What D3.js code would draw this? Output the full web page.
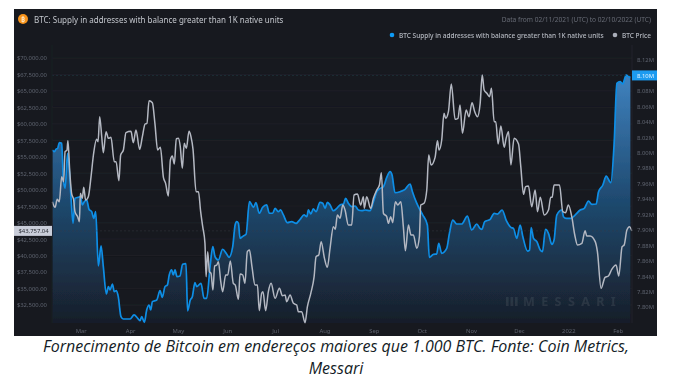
<!DOCTYPE html>
<html><head><meta charset="utf-8">
<style>
html,body{margin:0;padding:0;background:#fff}
svg{display:block}
text{font-family:"Noto Sans","Open Sans",sans-serif}
.cap{font-family:"Open Sans",sans-serif;font-style:italic;font-size:16px;fill:#141c26;text-anchor:middle}
</style>
<script src="https://cdn.jsdelivr.net/npm/d3@7"></script>
</head><body>
<svg id="c" width="673" height="381"></svg>
<script>
const startDate = "2021-02-11";
const endDate = "2022-02-10";
const titleText = "BTC: Supply in addresses with balance greater than 1K native units";
const rangeText = "Data from 02/11/2021 (UTC) to 02/10/2022 (UTC)";
const legendLabels = ["BTC Supply in addresses with balance greater than 1K native units", "BTC Price"];
const captionLines = ["Fornecimento de Bitcoin em endereços maiores que 1.000 BTC. Fonte: Coin Metrics,", "Messari"];
const monthTicks = ["2021-03-01","2021-04-01","2021-05-01","2021-06-01","2021-07-01","2021-08-01","2021-09-01","2021-10-01","2021-11-01","2021-12-01","2022-01-01","2022-02-01"];
const priceTicks = [32500,35000,37500,40000,42500,45000,47500,50000,52500,55000,57500,60000,62500,65000,67500,70000];
const supplyTicks = [7.80,7.82,7.84,7.86,7.88,7.90,7.92,7.94,7.96,7.98,8.00,8.02,8.04,8.06,8.08,8.10,8.12];
const lastPrice = 43757.04;
const lastSupply = 8.10;

const priceDays = [0.2,1.9,3.3,4.6,6.1,7.3,8.2,9.4,10,11.1,12.3,13.6,14.4,16.1,17.2,17.8,19,19.9,21.1,22.8,24.5,26,28,28.9,29.9,31.2,32.2,33.9,35.4,37,39.1,40.2,42,43.1,44.8,46.4,49.6,51,52.7,55,56.7,58.4,59.6,60.9,63,64.6,66.3,68,69.9,71.3,73,74.3,75.5,76.8,78,79.3,80.5,81.8,83,84.3,86,87.2,88.5,
90.4,91.9,93.3,94.6,96,96.7,97.7,98.8,99.8,101,102.1,103.4,104.4,105.9,107.1,109,110.3,111.9,113.8,115,117,118,119.7,121.1,122.6,123.9,125.5,127.4,128.9,130.1,131.6,132.4,134.1,135.8,137.5,140,142.7,144.6,146.3,147.3,149.4,151.5,153.6,154.6,156.7,158.8,160.3,162.4,164.5,165.7,167.4,168.9,171,172.8,174.5,176.6,177.8,179.1,180.8,
182.5,183.9,186,188.1,189.6,191.7,193.7,195.4,196,197.5,200,201.7,203.8,205.5,206.7,208,210.1,211.1,212.6,213.8,215.5,217,218.9,220.5,221.8,223.7,225.3,226.8,228.9,230.6,231.4,233.5,235.2,236.4,237.9,240.4,241.9,242.9,244.6,246,247.1,248.8,250.6,253,254.8,256.1,257.6,259.9,261.7,263.6,265.3,267,
268.7,270,271.2,272.9,274.6,275.8,277.5,278.5,280,281.7,283.8,285,286.5,288,290,292.8,294.2,295.9,297.2,299,301.1,303.2,304.7,306.4,308.9,311.6,313,313.9,315.1,318.5,320.6,322.3,324.1,326.2,328.1,329.8,332.5,334.6,335.6,337.7,340.9,342.3,344.6,347.1,349.2,351.3,354,355.7,357.8,359.1,360.8,362.4,363.9];
const priceValues = [48191,47331,48545,48191,51986,51227,55781,56034,57451,52998,49456,48444,46673,45914,45155,49456,48697,50367,48444,48950,51986,55275,57653,57299,61094,58058,55629,58817,57805,57957,54263,54263,51379,55275,56034,58665,58868,57147,59070,56135,58058,59981,60082,63523,63219,60082,56034,56439,51885,50974,49051,54516,55123,53909,57754,57805,56540,53251,57046,56287,58868,58058,56135,
49709,49709,46673,44396,41866,36806,40601,37565,37312,34782,38425,38577,39083,36047,34529,37059,37059,39184,35794,35541,33365,37211,37059,35794,40601,40854,38324,35541,35541,31645,34276,34529,31645,34529,35794,33517,35035,33922,34023,33011,34023,32758,32505,31493,31493,29823,32252,34276,36806,39842,40095,42119,39589,38223,41107,44396,43991,46167,45661,
47685,46926,44649,44649,49203,49355,47685,48950,47179,48950,47179,48697,49962,50721,52593,46420,45914,44902,45914,45003,48191,47685,48191,44396,40753,44649,43131,43131,41107,42878,47685,47938,49962,55275,53757,54921,57451,56034,57552,61600,60841,61853,66053,60689,60841,62865,58564,62106,61094,63219,61853,61094,
63118,67419,65142,64636,64130,65395,60335,60335,56945,59677,56439,57805,58817,53757,57805,56945,53504,49304,50468,50569,47432,49962,46673,48849,46167,46926,48849,48849,50721,50721,46673,46521,47685,45914,43131,41613,41866,43789,42979,42979,42119,40601,35035,36705,36907,37919,38577,36907,41360,41613,43890,44396,43757];

const supplyDays = [0.2,1.5,2.5,3.6,4.6,6.1,7.1,8.2,9.8,10.7,11.9,13.2,14.4,16.5,18,19,20.3,21.8,23.2,24.9,26.2,27.4,29.1,30.8,32.2,34.1,35.4,36.4,37.9,39.1,40.4,41.6,43.3,44.8,49,51.5,53.8,55.2,56.3,58,59.4,60.9,61.9,63,65.7,67.8,69.2,70.9,72.4,73.6,75.1,76.1,77.2,78.4,80.3,82,84.1,85.1,86.8,88.1,89.7,
90.8,93.5,95.4,97.1,99.2,100.9,102.3,104.4,107.1,109.6,111.1,113.4,114.9,115.9,117,118,120.1,121.8,123.9,126.4,128,130.1,132.2,134.7,136.4,138.5,140,142,143.5,145.2,147.7,150.4,153.2,155.7,158.2,159.9,160.9,162.4,164,165.7,168.2,169.9,171.4,172.8,174.5,176.6,178.7,180.8,
182.9,184.3,186,188.1,190.2,192.3,194.4,196.5,199.6,201.7,203.8,205.9,208,210.1,212.2,213.4,215.3,218.4,221.6,224.7,226.2,228.5,229.9,232.7,235.6,236.8,239.4,241.4,242.7,244.6,247.7,249.4,251.5,254,257.1,260.7,263.4,266.6,268.6,
269.7,271.6,275,277.5,279.6,282.5,285,288,289.6,291.7,293.8,295.5,298.4,299.7,300.7,302.2,304.3,306.4,307.8,309.7,311.6,313.7,315.1,316.8,320,321,322.7,325.6,328.3,331.5,334,336.7,338.8,341.5,343,345.7,347.8,350.7,352.8,354.5,356.6,358.2,360.3,362,363];
const supplyValues = [8.0035,8.0013,8.0044,8.0057,8.0130,8.0121,7.9668,7.9538,7.9992,7.9819,7.9431,7.9085,7.9409,7.9422,7.9431,7.9323,7.9366,7.9387,7.9267,7.9236,7.9150,7.9236,7.8533,7.8792,7.8524,7.8170,7.8265,7.8222,7.8299,7.8200,7.8213,7.8135,7.7876,7.7846,7.7846,7.7898,7.7855,7.7825,7.7876,7.7803,7.7963,7.8027,7.7963,7.8071,7.8092,7.8213,7.8127,7.8265,7.8287,7.8416,7.8481,7.8416,7.8481,7.8395,7.8403,7.8554,7.8563,7.7950,7.8092,7.8135,7.8317,
7.8265,7.8308,7.8114,7.8114,7.8524,7.8783,7.8654,7.8610,7.8749,7.8688,7.8645,7.8783,7.9064,7.9107,7.9085,7.8891,7.8921,7.8943,7.9366,7.9292,7.9353,7.9215,7.9292,7.9323,7.9215,7.9215,7.9279,7.9236,7.9258,7.9193,7.9094,7.9107,7.9085,7.9137,7.9193,7.9172,7.9258,7.9206,7.9271,7.9236,7.9357,7.9344,7.9279,7.9357,7.9323,7.9249,7.9279,7.9323,
7.9335,7.9408,7.9343,7.9300,7.9309,7.9257,7.9248,7.9257,7.9248,7.9365,7.9494,7.9537,7.9559,7.9680,7.9753,7.9710,7.9481,7.9494,7.9525,7.9594,7.9494,7.9365,7.9300,7.9192,7.9063,7.8644,7.8683,7.8687,7.8825,7.8696,7.8760,7.8955,7.9127,7.9076,7.9076,7.9179,7.8998,7.9076,7.9019,
7.9006,7.9106,7.9136,7.9214,7.9205,7.9257,7.9127,7.9032,7.9019,7.8890,7.9063,7.8911,7.8726,7.8739,7.9028,7.8890,7.8847,7.8739,7.8717,7.9006,7.8955,7.8812,7.8868,7.9192,7.9257,7.9170,7.9149,7.9149,7.9192,7.9257,7.9278,7.9373,7.9330,7.9335,7.9494,7.9581,7.9697,7.9611,8.0120,8.0897,8.0919,8.0889,8.1005,8.0984,8.0975];

const parse = d3.utcParse("%Y-%m-%d");
const t0 = parse(startDate), t1 = parse(endDate);
const toDate = d => d3.utcHour.offset(t0, Math.round(d * 24));
const x = d3.scaleUtc().domain([t0, t1]).range([52, 632]);
const yPrice = d3.scaleLinear().domain([29773, 71973]).range([323, 45]);
const ySupply = d3.scaleLinear().domain([7.7794, 8.1394]).range([323, 45]);

const svg = d3.select("#c");
const defs = svg.append("defs");
defs.append("filter").attr("id","soft").attr("x","-5%").attr("y","-5%").attr("width","110%").attr("height","110%")
  .append("feGaussianBlur").attr("stdDeviation",0.7);
const grad = defs.append("linearGradient").attr("id","areaFill").attr("gradientUnits","userSpaceOnUse")
  .attr("x1",0).attr("x2",0).attr("y1",ySupply(lastSupply)).attr("y2",323);
grad.append("stop").attr("offset",0).attr("stop-color","#3f82bf");
grad.append("stop").attr("offset",0.5).attr("stop-color","#1f4a70");
grad.append("stop").attr("offset",1).attr("stop-color","#181e29");

const panel = svg.append("rect").attr("x",14).attr("y",9).attr("width",643).attr("height",327).attr("fill","#17191f");
const g = svg.append("g").attr("filter","url(#soft)");

// grid
g.append("g").selectAll("line").data(priceTicks).join("line")
  .attr("x1",52).attr("x2",632).attr("y1",d=>yPrice(d)).attr("y2",d=>yPrice(d))
  .attr("stroke","#1d1f26").attr("stroke-width",1);

const supplyPts = supplyDays.map((d,i)=>({t:toDate(d),v:supplyValues[i]}));
const pricePts = priceDays.map((d,i)=>({t:toDate(d),v:priceValues[i]}));

g.append("path").datum(supplyPts).attr("fill","url(#areaFill)")
  .attr("d", d3.area().x(d=>x(d.t)).y0(323).y1(d=>ySupply(d.v)).curve(d3.curveMonotoneX));
g.append("path").datum(supplyPts).attr("fill","none").attr("stroke","#0e8ee6").attr("stroke-width",1.7).attr("stroke-linejoin","round")
  .attr("d", d3.line().x(d=>x(d.t)).y(d=>ySupply(d.v)).curve(d3.curveMonotoneX));

// last value lines
g.append("line").attr("x1",52).attr("x2",632).attr("y1",ySupply(lastSupply)).attr("y2",ySupply(lastSupply))
  .attr("stroke","#1c3640").attr("stroke-opacity",.7).attr("stroke-dasharray","2 2");
g.append("line").attr("x1",52).attr("x2",632).attr("y1",yPrice(lastPrice)).attr("y2",yPrice(lastPrice))
  .attr("stroke","#3a3d46").attr("stroke-opacity",.4).attr("stroke-dasharray","2 2");

g.append("path").datum(pricePts).attr("fill","none").attr("stroke","#b4b8c2").attr("stroke-width",1.5).attr("stroke-linejoin","round")
  .attr("d", d3.line().x(d=>x(d.t)).y(d=>yPrice(d.v)).curve(d3.curveMonotoneX));

// watermark
const wm = g.append("g").attr("fill","#ffffff").attr("fill-opacity",.08);
wm.selectAll("rect").data([0,1,2]).join("rect").attr("x",d=>506+d*4.5).attr("y",297).attr("width",2.6).attr("height",9);
wm.append("text").attr("x",523).attr("y",306).attr("font-size",12.5).attr("font-weight",700).attr("letter-spacing","6.4px").text("MESSARI");

// axes
const styleAxis = (sel, col) => {
  sel.select(".domain").remove();
  sel.selectAll(".tick line").remove();
  sel.selectAll("text").attr("fill",col).attr("font-size",5.9).attr("font-family",'"Noto Sans",sans-serif');
};
g.append("g").attr("transform","translate(52,0)")
  .call(d3.axisLeft(yPrice).tickValues(priceTicks).tickFormat(d3.format("$,.2f")).tickSize(0).tickPadding(5))
  .call(styleAxis,"#5d626e");
g.append("g").attr("transform","translate(632,0)")
  .call(d3.axisRight(ySupply).tickValues(supplyTicks).tickFormat(d=>d.toFixed(2)+"M").tickSize(0).tickPadding(5))
  .call(styleAxis,"#5d626e");
const monthFmt = d => d.getUTCMonth()===0 ? String(d.getUTCFullYear()) : d3.utcFormat("%b")(d);
g.append("g").attr("transform","translate(0,323)")
  .call(d3.axisBottom(x).tickValues(monthTicks.map(parse)).tickFormat(monthFmt).tickSize(0).tickPadding(6))
  .call(styleAxis,"#5d626e");
g.append("line").attr("x1",632).attr("x2",632).attr("y1",45).attr("y2",323).attr("stroke","#22252c");
g.append("line").attr("x1",52).attr("x2",52).attr("y1",45).attr("y2",323).attr("stroke","#1d1f26");

// value tags
g.append("rect").attr("x",14).attr("y",yPrice(lastPrice)-5).attr("width",38).attr("height",10).attr("fill","#c9cdd9");
g.append("text").attr("x",18.5).attr("y",yPrice(lastPrice)+2.1).attr("font-size",5.9).attr("fill","#2a2d35").text(d3.format("$,.2f")(lastPrice));
g.append("rect").attr("x",632).attr("y",ySupply(lastSupply)-5).attr("width",25).attr("height",10).attr("fill","#1a9bf0");
g.append("text").attr("x",637).attr("y",ySupply(lastSupply)+2.1).attr("font-size",5.9).attr("fill","#e8f4ff").text(lastSupply.toFixed(2)+"M");

// header
g.append("circle").attr("cx",23).attr("cy",19).attr("r",5).attr("fill","#f7931a");
g.append("text").attr("x",23).attr("y",21.5).attr("text-anchor","middle").attr("font-size",7).attr("font-weight",700).attr("fill","#fde3bd").text("₿");
g.append("text").attr("x",34).attr("y",23).attr("font-size",8).attr("fill","#c3c6cc").text(titleText);
g.append("text").attr("x",651).attr("y",22).attr("text-anchor","end").attr("font-size",6.6).attr("fill","#676b75").text(rangeText);
g.append("circle").attr("cx",392).attr("cy",35).attr("r",2.3).attr("fill","#0f9bf5");
g.append("text").attr("x",399).attr("y",38).attr("font-size",6.5).attr("font-weight",500).attr("fill","#b4b8c0").text(legendLabels[0]);
g.append("circle").attr("cx",615).attr("cy",35).attr("r",2.3).attr("fill","#a9adb8");
g.append("text").attr("x",651).attr("y",38).attr("text-anchor","end").attr("font-size",6.5).attr("font-weight",500).attr("fill","#b4b8c0").text(legendLabels[1]);

// caption
svg.append("g").selectAll("text").data(captionLines).join("text").attr("class","cap")
  .attr("x",336).attr("y",(d,i)=>352+i*22).text(d=>d);
</script>
</body></html>
